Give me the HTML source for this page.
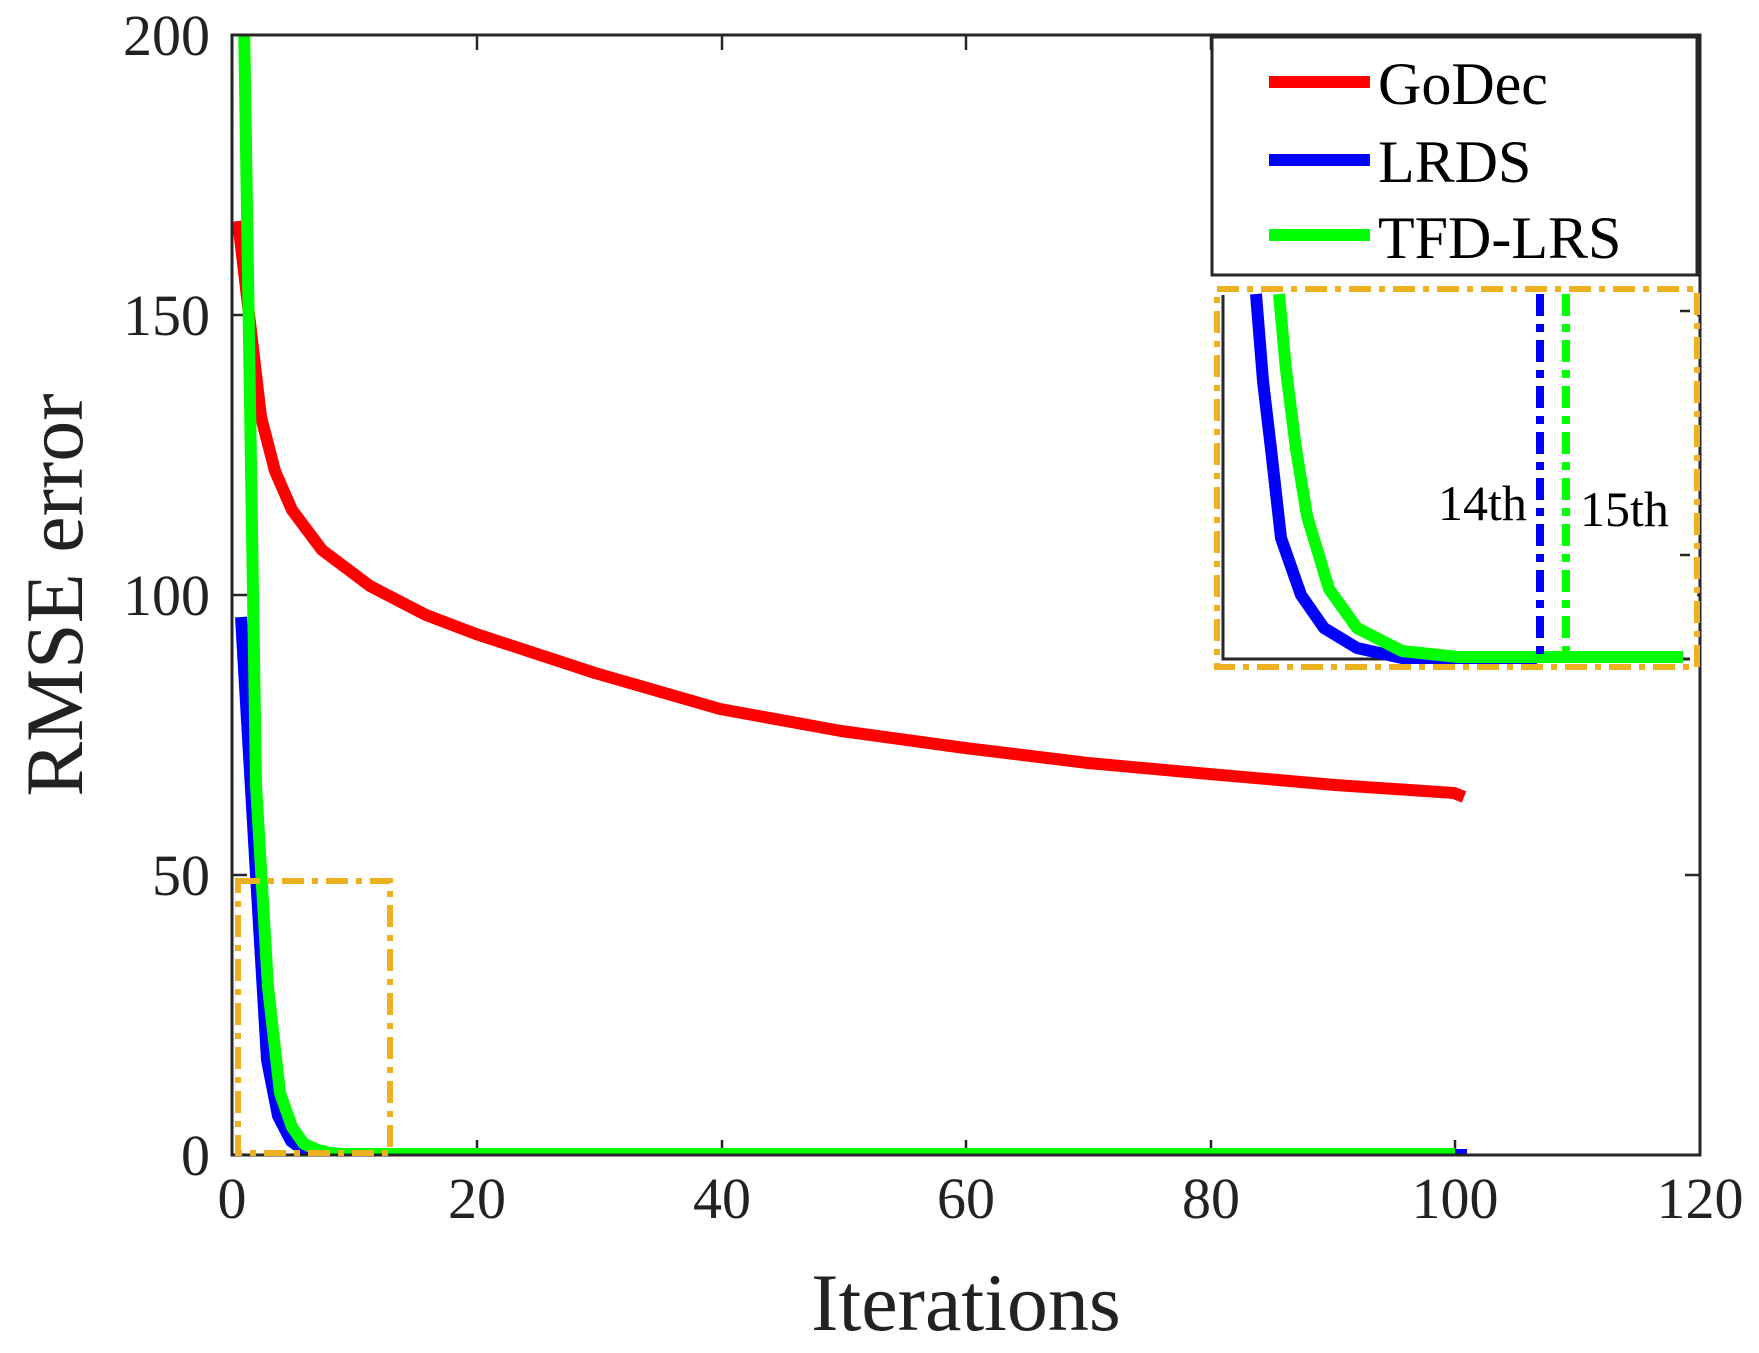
<!DOCTYPE html>
<html><head><meta charset="utf-8"><style>
html,body{margin:0;padding:0;background:#fff}
svg{display:block}
text{font-family:"Liberation Serif",serif;fill:#222}
</style></head><body>
<svg width="1759" height="1353" viewBox="0 0 1759 1353" xmlns="http://www.w3.org/2000/svg">
<defs><clipPath id="c"><rect x="232" y="35" width="1468" height="1120"/></clipPath></defs>
<g stroke="#262626" stroke-width="2.5" fill="none">
<path d="M477,1155v-15M722,1155v-15M966,1155v-15M1211,1155v-15M1455,1155v-15
M477,35v15M722,35v15M966,35v15M1211,35v15M1455,35v15
M232,875h15M232,595h15M232,315h15M1700,875h-15M1700,595h-15M1700,315h-15"/>
</g>
<g clip-path="url(#c)" fill="none" stroke-linejoin="round" stroke-width="12">
<polyline stroke="#ff0000" points="238,221 249,314 261,417 275,471 292,510 322,550 370,586 426,615 476,634 595,673 720,709 841,731 965,748 1088,763 1209,774 1335,785 1454,793 1464,797"/>
<polyline stroke="#0000ff" points="241,617 256,875 267,1060 278,1116 291,1141 303,1150 318,1153 330,1155 1467,1155"/>
<polyline stroke="#00ff00" points="244,20 256,785 268,987 280,1093 292,1127 304,1144 318,1150 330,1153 342,1154 1455,1154"/>
</g>
<rect x="232" y="35" width="1468" height="1120" fill="none" stroke="#262626" stroke-width="3"/>
<rect x="238" y="881" width="152" height="272" fill="none" stroke="#EDB120" stroke-width="6" stroke-dasharray="22,8,6,8"/>
<rect x="1212" y="37" width="485" height="238" fill="#fff" stroke="#262626" stroke-width="3"/>
<g stroke-width="12"><line x1="1269" y1="82" x2="1370" y2="82" stroke="#ff0000"/>
<line x1="1269" y1="160" x2="1370" y2="160" stroke="#0000ff"/>
<line x1="1269" y1="235" x2="1370" y2="235" stroke="#00ff00"/></g>
<g font-size="60"><text x="1378" y="104" style="fill:#000">GoDec</text>
<text x="1378" y="182" style="fill:#000">LRDS</text>
<text x="1378" y="258" style="fill:#000">TFD-LRS</text></g>
<rect x="1217" y="289" width="480" height="378" fill="#fff"/>
<path d="M1223,295V659H1690" fill="none" stroke="#262626" stroke-width="3"/>
<path d="M1690,311h-10M1690,555h-10" stroke="#262626" stroke-width="2.5"/>
<g fill="none" stroke-width="12" stroke-linejoin="round">
<polyline stroke="#0000ff" points="1256,294 1263,381 1271,449 1281,538 1301,595 1324,628 1357,648 1402,658 1537,658"/>
<polyline stroke="#00ff00" points="1279,294 1286,370 1296,449 1307,516 1329,589 1357,628 1402,651 1458,657 1683,657"/>
<line x1="1540" y1="294" x2="1540" y2="659" stroke="#0000ff" stroke-width="8" stroke-dasharray="22,8,8,8"/>
<line x1="1566" y1="294" x2="1566" y2="657" stroke="#00ff00" stroke-width="8" stroke-dasharray="22,8,8,8"/>
</g>
<text x="1438" y="520" font-size="50" style="fill:#000">14th</text>
<text x="1580" y="526" font-size="50" style="fill:#000">15th</text>
<rect x="1217" y="289" width="480" height="378" fill="none" stroke="#EDB120" stroke-width="6" stroke-dasharray="22,8,6,8"/>
<g font-size="58" text-anchor="middle">
<text x="232" y="1218">0</text><text x="477" y="1218">20</text><text x="722" y="1218">40</text>
<text x="966" y="1218">60</text><text x="1211" y="1218">80</text><text x="1455" y="1218">100</text><text x="1700" y="1218">120</text>
</g>
<g font-size="58" text-anchor="end">
<text x="210" y="1175">0</text><text x="210" y="895">50</text><text x="210" y="615">100</text>
<text x="210" y="335">150</text><text x="210" y="55">200</text>
</g>
<text x="966" y="1330" font-size="82" text-anchor="middle">Iterations</text>
<text transform="translate(82,595) rotate(-90)" font-size="82" text-anchor="middle">RMSE error</text>
</svg>
</body></html>
